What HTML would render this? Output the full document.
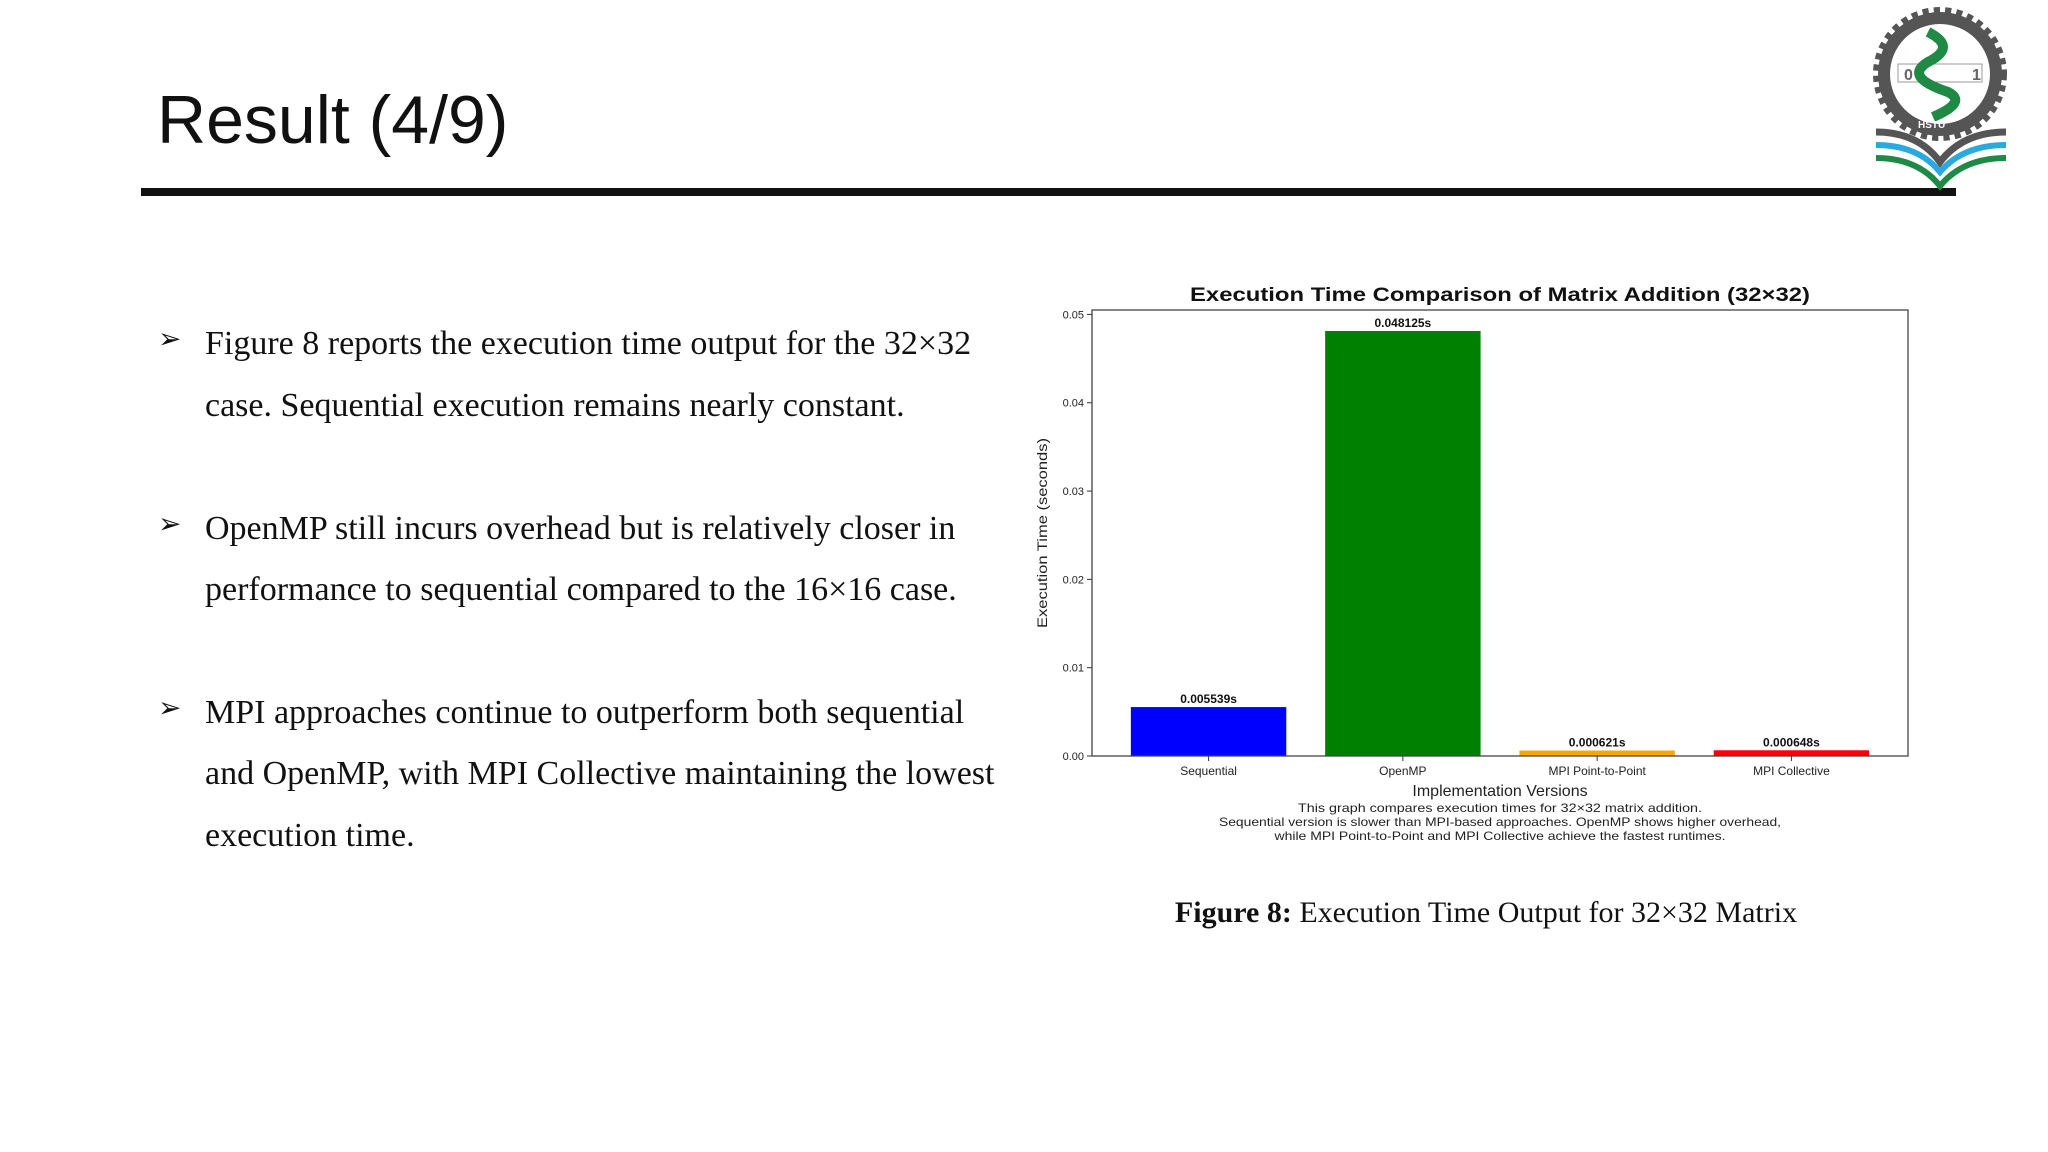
<!DOCTYPE html>
<html><head><meta charset="utf-8"><style>
html,body{margin:0;padding:0;background:#fff;}
#page{position:relative;width:2048px;height:1152px;overflow:hidden;background:#fff;}
.t{position:absolute;white-space:nowrap;}
.bl{position:absolute;left:205px;font-family:"Liberation Serif",serif;font-size:34px;color:#111;white-space:nowrap;line-height:1;}
.ar{position:absolute;left:158px;font-size:28px;color:#111;font-family:"DejaVu Sans",sans-serif;}
</style></head><body>
<div id="page">
<div class="t" style="left:157px;top:86px;font-family:'Liberation Sans',sans-serif;font-size:68px;color:#111;line-height:1;">Result (4/9)</div>
<div style="position:absolute;left:141px;top:188px;width:1815px;height:8px;background:#111;"></div>

<svg style="position:absolute;left:1868px;top:2px" width="150" height="190" viewBox="0 0 150 190">
<circle cx="72" cy="72" r="62" fill="#555" stroke="#555" stroke-width="10" stroke-dasharray="6 5"/>
<circle cx="72" cy="72" r="50" fill="#fff"/>
<rect x="30" y="62" width="84" height="18" fill="#fff" stroke="#999"/>
<text x="36" y="78" font-family="Liberation Sans" font-size="16" font-weight="bold" fill="#666">0</text>
<text x="104" y="78" font-family="Liberation Sans" font-size="16" font-weight="bold" fill="#666">1</text>
<path d="M60 30 Q90 45 60 60 Q35 75 80 90 Q100 100 65 115" fill="none" stroke="#1e8a45" stroke-width="10"/>
<text x="50" y="126" font-family="Liberation Sans" font-size="10" font-weight="bold" fill="#fff">HSTU</text>
<path d="M8 130 Q50 130 72 160 Q95 130 138 130" fill="none" stroke="#555" stroke-width="7"/>
<path d="M8 143 Q50 143 72 170 Q95 143 138 143" fill="none" stroke="#29a9e0" stroke-width="6"/>
<path d="M8 156 Q50 156 72 184 Q95 156 138 156" fill="none" stroke="#1e8a45" stroke-width="6"/>
</svg>

<div class="ar" style="top:322px">➢</div>
<div class="bl" style="top:327px">Figure 8 reports the execution time output for the 32×32</div>
<div class="bl" style="top:389px">case. Sequential execution remains nearly constant.</div>
<div class="ar" style="top:507px">➢</div>
<div class="bl" style="top:512px">OpenMP still incurs overhead but is relatively closer in</div>
<div class="bl" style="top:573px">performance to sequential compared to the 16×16 case.</div>
<div class="ar" style="top:691px">➢</div>
<div class="bl" style="top:696px">MPI approaches continue to outperform both sequential</div>
<div class="bl" style="top:757px">and OpenMP, with MPI Collective maintaining the lowest</div>
<div class="bl" style="top:819px">execution time.</div>

<div class="t" style="left:1486px;top:896px;transform:translateX(-50%);font-family:'Liberation Serif',serif;font-size:30px;color:#111;"><b>Figure 8:</b> Execution Time Output for 32×32 Matrix</div>

<svg id="chart" style="position:absolute;left:0;top:0" width="2048" height="1152"></svg>
</div>
<script>
const categories=["Sequential","OpenMP","MPI Point-to-Point","MPI Collective"];
const values=[0.005539,0.048125,0.000621,0.000648];
const valueLabels=["0.005539s","0.048125s","0.000621s","0.000648s"];
const barColors=["#0000ff","#008000","#ffa500","#ff0000"];
const yTicks=[0,0.01,0.02,0.03,0.04,0.05];
const yTickLabels=["0.00","0.01","0.02","0.03","0.04","0.05"];

const svg=document.getElementById('chart');
const NS="http://www.w3.org/2000/svg";
const L=1092,R=1908,T=310,B=756;
const yMax=0.0505;
function y(v){return B-(v/yMax)*(B-T);}
const step=(R-L)/4.2;
function x(i){return L+(i+0.6)*step;}
function mk(tag,attrs,txt){const e=document.createElementNS(NS,tag);for(const k in attrs)e.setAttribute(k,attrs[k]);if(txt!==undefined)e.textContent=txt;svg.appendChild(e);return e;}
const F="Liberation Sans, sans-serif";
let e=mk('text',{x:1500,y:301,'text-anchor':'middle','font-family':F,'font-size':19,'font-weight':'bold',fill:'#111',textLength:620,lengthAdjust:'spacingAndGlyphs'},'Execution Time Comparison of Matrix Addition (32×32)');


values.forEach((v,i)=>{
  const w=0.8*step;
  let b=mk('rect',{x:x(i)-w/2,y:y(v),width:w,height:B-y(v),fill:barColors[i]});
  
  
  let t=mk('text',{x:x(i),y:y(v)-4,'text-anchor':'middle','font-family':F,'font-size':12,'font-weight':'bold',fill:'#111'},valueLabels[i]);
  
  
  mk('line',{x1:x(i),x2:x(i),y1:B,y2:B+5,stroke:'#333'});
  let l=mk('text',{x:x(i),y:B+19,'text-anchor':'middle','font-family':F,'font-size':12,fill:'#222'},categories[i]);
  
  
});
yTicks.forEach((v,i)=>{
  mk('line',{x1:L-5,x2:L,y1:y(v),y2:y(v),stroke:'#333'});
  let l=mk('text',{x:L-8,y:y(v)+4,'text-anchor':'end','font-family':F,'font-size':11,fill:'#222'},yTickLabels[i]);
  
  
});
let ax=mk('rect',{x:L,y:T,width:R-L,height:B-T,fill:'none',stroke:'#444','stroke-width':1.3});


let yl=mk('text',{x:0,y:0,transform:'translate(1047,533) rotate(-90)','text-anchor':'middle','font-family':F,'font-size':14,fill:'#222',textLength:190,lengthAdjust:'spacingAndGlyphs'},'Execution Time (seconds)');


let xl=mk('text',{x:1500,y:796,'text-anchor':'middle','font-family':F,'font-size':16,fill:'#222'},'Implementation Versions');


const capLines=["This graph compares execution times for 32×32 matrix addition.","Sequential version is slower than MPI-based approaches. OpenMP shows higher overhead,","while MPI Point-to-Point and MPI Collective achieve the fastest runtimes."];
const capLens=[404,562,451];
capLines.forEach((s,i)=>{
  let c=mk('text',{x:1500,y:812+i*14,'text-anchor':'middle','font-family':F,'font-size':12,fill:'#222',textLength:capLens[i],lengthAdjust:'spacingAndGlyphs'},s);
  
  
});
</script>
</body></html>
